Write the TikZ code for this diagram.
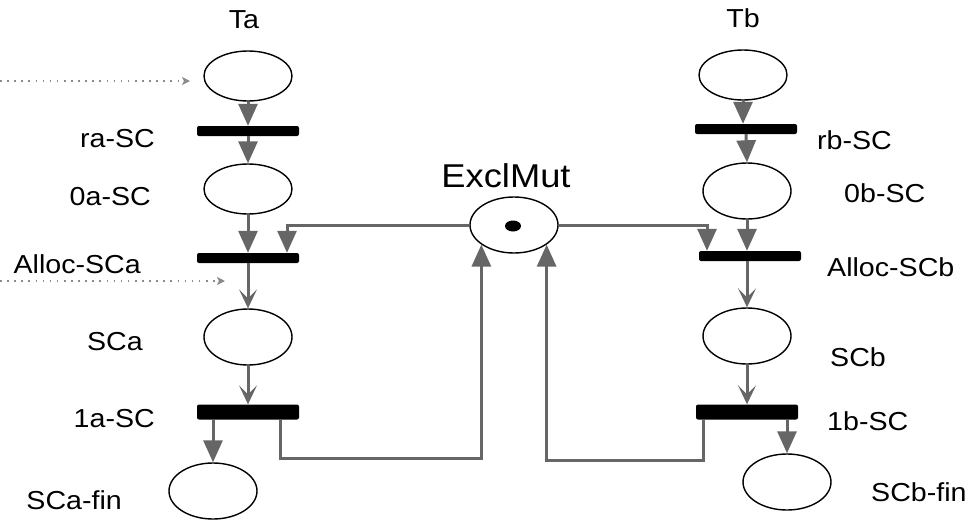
\documentclass[tikz,border=0pt]{standalone}
\usepackage{fontspec}
\setmainfont{Liberation Sans}
\newfontfamily\lblfont[FakeStretch=1.1]{Liberation Sans}
\usetikzlibrary{shapes.geometric,arrows.meta}
\definecolor{arcgray}{HTML}{666666}
\definecolor{dotgray}{HTML}{8A8A8A}
\begin{document}
\begin{tikzpicture}[x=1pt,y=-1pt,
  place/.style={draw=black,line width=1.4pt,ellipse,minimum width=88pt,minimum height=50pt,inner sep=0pt,fill=white},
  tokenplace/.style={place,minimum height=56pt},
  trans/.style={fill=black,rounded corners=2pt,minimum width=102pt,minimum height=10pt,inner sep=0pt},
  transthick/.style={trans,minimum height=15pt},
  lbl/.style={font=\lblfont\fontsize{26}{30}\selectfont,inner sep=0pt},
  arc/.style={draw=arcgray,line width=3pt,-{Triangle[length=22pt,width=19pt]}},
  arcv/.style={draw=arcgray,line width=3pt,-{Stealth[length=19pt,width=18pt,inset=9pt]}},
  dotarc/.style={draw=dotgray,line width=1.6pt,dash pattern=on 1.6pt off 5.5pt,-{Stealth[length=8pt,width=8pt,inset=2pt]}}
]
\useasboundingbox (0,0) rectangle (977,520);
% left column
\node[place] (ta) at (248,76) {};
\node[trans] (ra) at (248,131) {};
\node[place] (oa) at (248,189) {};
\node[trans] (alloca) at (248,258) {};
\node[place,minimum height=56pt] (sca) at (248,337) {};
\node[transthick] (ia) at (248,412) {};
\node[place,minimum height=56pt] (scafin) at (213,491) {};
% right column
\node[place] (tb) at (743,75) {};
\node[trans] (rb) at (746,129) {};
\node[place,minimum height=56pt] (ob) at (747,191) {};
\node[trans] (allocb) at (750,256) {};
\node[place,minimum height=56pt] (scb) at (747,336) {};
\node[transthick] (ib) at (747,412) {};
\node[place,minimum height=56pt] (scbfin) at (787,482) {};
% mutex
\node[tokenplace] (excl) at (514,225) {};
\node[fill=black,ellipse,minimum width=16pt,minimum height=11pt,inner sep=0pt] (tok) at (513,226) {};
% labels
\node[lbl] (lta) at (244,20) {Ta};
\node[lbl,anchor=east] (lra) at (155,139) {ra-SC};
\node[lbl,anchor=east] (loa) at (151,197) {0a-SC};
\node[lbl,anchor=east] (lalloca) at (141,264) {Alloc-SCa};
\node[lbl,anchor=east] (lsca) at (143,342) {SCa};
\node[lbl,anchor=east] (lia) at (155,419) {1a-SC};
\node[lbl,anchor=east] (lscafin) at (122,500) {SCa-fin};
\node[lbl] (ltb) at (743,18) {Tb};
\node[lbl,anchor=west] (lrb) at (817,140) {rb-SC};
\node[lbl,anchor=west] (lob) at (844,193) {0b-SC};
\node[lbl,anchor=west] (lallocb) at (827,267) {Alloc-SCb};
\node[lbl,anchor=west] (lscb) at (830,357) {SCb};
\node[lbl,anchor=west] (lib) at (827,421) {1b-SC};
\node[lbl,anchor=west] (lscbfin) at (871,492) {SCb-fin};
\node[lbl,font=\lblfont\fontsize{33}{38}\selectfont] (lexcl) at (506,176) {ExclMut};
% dotted inputs
\coordinate (d1) at (0,81);
\coordinate (d1e) at (190,81);
\coordinate (d2) at (0,281);
\coordinate (d2e) at (225,281);
\draw[dotarc] (d1) -- (d1e);
\draw[dotarc] (d2) -- (d2e);
% left arcs
\draw[arc] (ta.south) -- (ra.north);
\draw[arc] (ra.south) -- (oa.north);
\draw[arc] (oa.south) -- (alloca.north);
\draw[arcv] (alloca.south) -- (sca.north);
\draw[arcv] (sca.south) -- (ia.north);
\draw[arc] (ia.south -| scafin.north) -- (scafin.north);
\draw[arc] ([xshift=32pt]ia.south) -- ++(0,39) -| (excl.211);
\draw[arc] (excl.west) -| ([xshift=39pt]alloca.north);
% right arcs
\draw[arc] (tb.south) -- (tb.south |- rb.north);
\draw[arc] (rb.south) -- (ob.north);
\draw[arc] (ob.south) -- (ob.south |- allocb.north);
\draw[arcv] (allocb.south -| scb.north) -- (scb.north);
\draw[arcv] (scb.south) -- (ib.north);
\draw[arc] (ib.south -| scbfin.north) -- (scbfin.north);
\draw[arc] ([xshift=-44pt]ib.south) -- ++(0,41) -| (excl.329);
\draw[arc] (excl.east) -| ([xshift=-43pt]allocb.north);
\end{tikzpicture}
\end{document}
